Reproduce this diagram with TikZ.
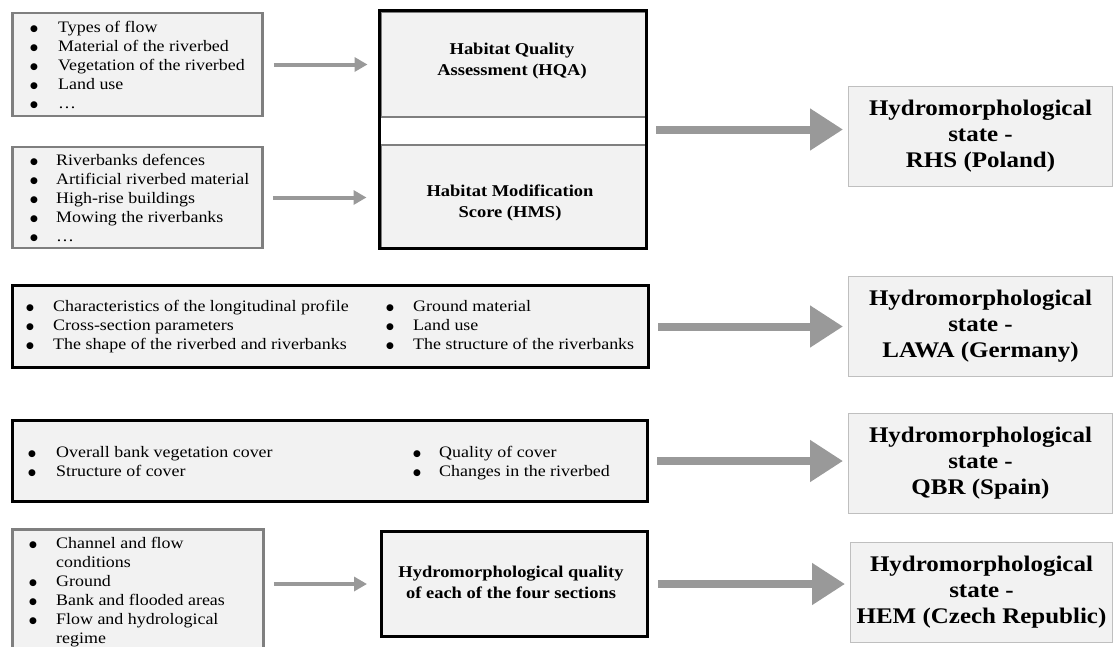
\documentclass[tikz,border=0pt]{standalone}
\usepackage{fontspec}
\setmainfont{Liberation Serif}[FakeStretch=1.12]
\newfontfamily\bulfont{DejaVu Sans}
\usepackage{tikz}
\usetikzlibrary{arrows.meta, positioning, fit}
\definecolor{panelgray}{RGB}{242,242,242}
\definecolor{boxgray}{RGB}{127,127,127}
\definecolor{edgegray}{RGB}{191,191,191}
\definecolor{arrowgray}{RGB}{153,153,153}
\newcommand{\bul}{\raisebox{1pt}{\bulfont\fontsize{9}{10}\selectfont ●}}
\newcommand{\bulletlist}[2]{\begin{tabular}[t]{@{}p{#1}@{}l@{}}#2\end{tabular}}
\tikzset{
  listbox/.style={rectangle, draw=boxgray, fill=panelgray, line width=2.5pt, inner sep=0pt},
  framebox/.style={rectangle, draw=black, fill=panelgray, line width=3pt, inner sep=0pt},
  partbox/.style={rectangle, draw=boxgray, fill=panelgray, line width=2pt, inner sep=0pt},
  resultbox/.style={rectangle, draw=edgegray, fill=panelgray, line width=1pt, inner sep=0pt,
    align=center, font=\bfseries\fontsize{22.3}{26}\selectfont},
  listtext/.style={anchor=base west, inner sep=0pt, font=\fontsize{16}{19}\selectfont},
  midtext/.style={align=center, inner sep=0pt, font=\bfseries\fontsize{16.5}{21}\selectfont},
  smallarrow/.style={-{Triangle[length=13pt,width=14pt]}, line width=4pt, color=arrowgray},
  bigarrow/.style={-{Triangle[length=33pt,width=40pt]}, line width=8pt, color=arrowgray}
}
\begin{document}
\begin{tikzpicture}[x=1pt, y=-1pt]
  \useasboundingbox (0,0) rectangle (1113,646);

  % RHS (Poland)
  \node[listbox, minimum width=250, minimum height=103] (typesbox) at (137.5,64.5) {};
  \node[listtext] (typestext) at (30,32) {\bulletlist{28pt}{%
    \bul & Types of flow\\
    \bul & Material of the riverbed\\
    \bul & Vegetation of the riverbed\\
    \bul & Land use\\
    \bul & \dots}};
  \node[listbox, minimum width=250, minimum height=101] (defbox) at (137.5,197.5) {};
  \node[listtext] (deftext) at (30,165) {\bulletlist{26pt}{%
    \bul & Riverbanks defences\\
    \bul & Artificial riverbed material\\
    \bul & High-rise buildings\\
    \bul & Mowing the riverbanks\\
    \bul & \dots}};
  \node[partbox, minimum width=265, minimum height=105.5] (hqa) at (513,64.25) {};
  \node[midtext] (hqatext) at (512,61) {Habitat Quality\\ Assessment (HQA)};
  \node[partbox, minimum width=265, minimum height=102.5] (hms) at (513,196.25) {};
  \node[midtext] (hmstext) at (510,203) {Habitat Modification\\ Score (HMS)};
  \node[draw=black, line width=3pt, inner sep=0pt, fit=(hqa)(hms)] (hqaframe) {};
  \node[resultbox, minimum width=264, minimum height=100] (rhs) at (980.5,136)
    {Hydromorphological\\ state -\\ RHS (Poland)};

  \draw[smallarrow, shorten <=10pt, shorten >=12pt] (typesbox.east) -- (typesbox.east -| hqa.west);
  \draw[smallarrow, shorten <=9pt, shorten >=13pt] (defbox.east) -- (defbox.east -| hms.west);
  \draw[bigarrow, shorten <=8pt, shorten >=5pt] (hqaframe.east) -- (hqaframe.east -| rhs.west);

  % LAWA (Germany)
  \node[framebox, minimum width=636, minimum height=82] (lawalist) at (330.5,326.5) {};
  \node[listtext] (lawaleft) at (26,311) {\bulletlist{27pt}{%
    \bul & Characteristics of the longitudinal profile\\
    \bul & Cross-section parameters\\
    \bul & The shape of the riverbed and riverbanks}};
  \node[listtext] (lawaright) at (386,311) {\bulletlist{27pt}{%
    \bul & Ground material\\
    \bul & Land use\\
    \bul & The structure of the riverbanks}};
  \node[resultbox, minimum width=264, minimum height=100] (lawa) at (980.5,326.5)
    {Hydromorphological\\ state -\\ LAWA (Germany)};
  \draw[bigarrow, shorten <=8pt, shorten >=5pt] (lawalist.east) -- (lawalist.east -| lawa.west);

  % QBR (Spain)
  \node[framebox, minimum width=635, minimum height=81] (qbrlist) at (330,461) {};
  \node[listtext] (qbrleft) at (28,457) {\bulletlist{28pt}{%
    \bul & Overall bank vegetation cover\\
    \bul & Structure of cover}};
  \node[listtext] (qbrright) at (413,457) {\bulletlist{26pt}{%
    \bul & Quality of cover\\
    \bul & Changes in the riverbed}};
  \node[resultbox, minimum width=264, minimum height=100] (qbr) at (980.5,463)
    {Hydromorphological\\ state -\\ QBR (Spain)};
  \draw[bigarrow, shorten <=8pt, shorten >=5pt] (qbrlist.east) -- (qbrlist.east -| qbr.west);

  % HEM (Czech Republic)
  \node[listbox, minimum width=251, minimum height=119.5] (hembox) at (138,589.25) {};
  \node[listtext] (hemtext) at (29,548) {\bulletlist{27pt}{%
    \bul & Channel and flow\\
         & conditions\\
    \bul & Ground\\
    \bul & Bank and flooded areas\\
    \bul & Flow and hydrological\\
         & regime}};
  \node[framebox, minimum width=266, minimum height=105] (hemmid) at (514.5,584) {};
  \node[midtext] (hemmidtext) at (511,582) {Hydromorphological quality\\ of each of the four sections};
  \node[resultbox, minimum width=262, minimum height=100] (hem) at (981.5,592.5)
    {Hydromorphological\\ state -\\ HEM (Czech Republic)};

  \draw[smallarrow, shorten <=9pt, shorten >=13pt] (hembox.east |- hemmid.west) -- (hemmid.west);
  \draw[bigarrow, shorten <=9pt, shorten >=5pt] (hemmid.east) -- (hemmid.east -| hem.west);
\end{tikzpicture}
\end{document}
